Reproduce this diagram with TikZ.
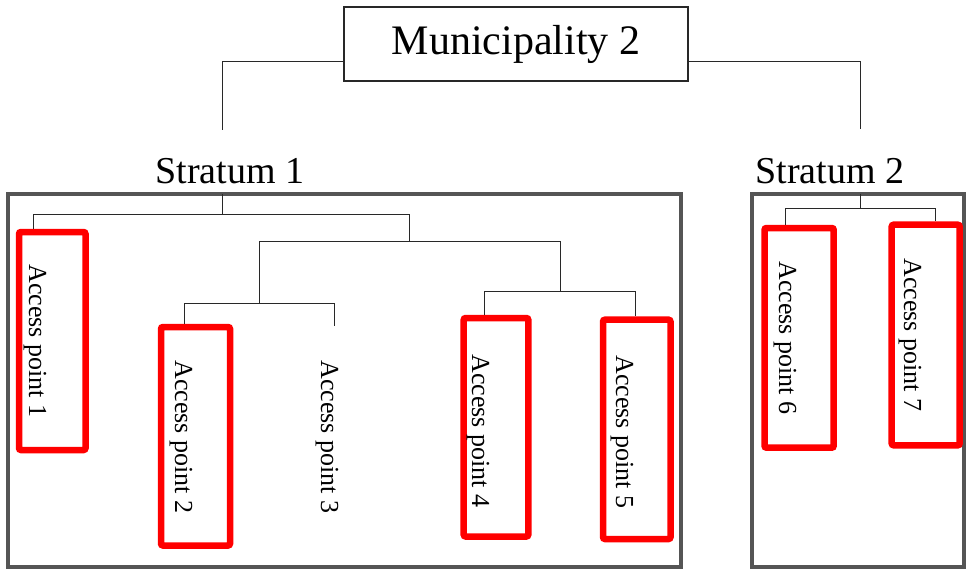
\documentclass[tikz,border=0pt]{standalone}
\usepackage{fontspec}
\setmainfont{Liberation Serif}
\definecolor{boxgray}{RGB}{85,85,85}
\definecolor{linegray}{RGB}{40,40,40}
\tikzset{
  thinline/.style={draw=linegray, line width=1pt},
  munbox/.style={draw=linegray, line width=1.2pt, rectangle, inner sep=0pt,
                 minimum width=344pt, minimum height=74pt,
                 font=\fontsize{42}{50}\selectfont},
  stlabel/.style={anchor=base, inner sep=0pt, font=\fontsize{38}{46}\selectfont},
  grpbox/.style={draw=boxgray, line width=3.5pt, rectangle, inner sep=0pt},
  apbox/.style={draw=red, line width=6.5pt, rectangle, rounded corners=2pt, inner sep=0pt},
  aptext/.style={rotate=-90, inner sep=0pt, font=\fontsize{26}{30}\selectfont}
}
\begin{document}
\begin{tikzpicture}[x=1pt, y=-1pt]
\useasboundingbox (0,0) rectangle (971,568);

% top node
\node[munbox] (mun) at (516,44) {Municipality 2};

% stratum labels
\node[stlabel] (s1lab) at (230,183.5) {Stratum 1};
\node[stlabel] (s2lab) at (830,183.5) {Stratum 2};

% group boxes
\node[grpbox, minimum width=673pt, minimum height=373pt] (s1box) at (344.5,380.5) {};
\node[grpbox, minimum width=212pt, minimum height=373pt] (s2box) at (858,380.5) {};

% access point boxes
\node[apbox, minimum width=66.5pt, minimum height=218pt] (ap1) at (52.25,341) {};
\node[apbox, minimum width=69pt, minimum height=218.5pt] (ap2) at (195.5,436.25) {};
\node[apbox, minimum width=64.6pt, minimum height=218.5pt] (ap4) at (496,427.25) {};
\node[apbox, minimum width=67.5pt, minimum height=219.3pt] (ap5) at (636.75,429.35) {};
\node[apbox, minimum width=69.2pt, minimum height=219.7pt] (ap6) at (799.1,337.85) {};
\node[apbox, minimum width=68pt, minimum height=220.6pt] (ap7) at (925.7,335) {};

% access point texts
\node[aptext] (t1) at (35,341) {Access point 1};
\node[aptext] (t2) at (181,437) {Access point 2};
\node[aptext] (t3) at (327,437) {Access point 3};
\node[aptext] (t4) at (478,431) {Access point 4};
\node[aptext] (t5) at (622,432) {Access point 5};
\node[aptext] (t6) at (785,338) {Access point 6};
\node[aptext] (t7) at (910,335) {Access point 7};

% coordinates
\coordinate (s1c) at (222,130);
\coordinate (s2c) at (860,129);
\coordinate (r1) at (222,194);
\coordinate (j1) at (222,214);
\coordinate (a1) at (33,214);
\coordinate (b1) at (409,214);
\coordinate (j2) at (409,241);
\coordinate (a2) at (259,241);
\coordinate (b2) at (560,241);
\coordinate (j3) at (259,303);
\coordinate (a3) at (184,303);
\coordinate (b3) at (334,303);
\coordinate (ap3top) at (334,326);
\coordinate (j4) at (560,291);
\coordinate (a4) at (484,291);
\coordinate (b4) at (635,291);
\coordinate (r2) at (860,194);
\coordinate (j5) at (860,208);
\coordinate (a5) at (785,208);
\coordinate (b5) at (935.7,208);

% connectors from municipality
\draw[thinline] ([yshift=-17pt]mun.west) -| (s1c);
\draw[thinline] ([yshift=-17pt]mun.east) -| (s2c);

% stratum 1 tree
\draw[thinline] (r1) -- (j1);
\draw[thinline] (a1) -- (b1);
\draw[thinline] (a1) -- (a1 |- ap1.north);
\draw[thinline] (b1) -- (j2);
\draw[thinline] (a2) -- (b2);
\draw[thinline] (a2) -- (j3);
\draw[thinline] (a3) -- (b3);
\draw[thinline] (a3) -- (a3 |- ap2.north);
\draw[thinline] (b3) -- (ap3top);
\draw[thinline] (b2) -- (j4);
\draw[thinline] (a4) -- (b4);
\draw[thinline] (a4) -- (a4 |- ap4.north);
\draw[thinline] (b4) -- (b4 |- ap5.north);

% stratum 2 tree
\draw[thinline] (r2) -- (j5);
\draw[thinline] (a5) -- (b5);
\draw[thinline] (a5) -- (a5 |- ap6.north);
\draw[thinline] (b5) -- (b5 |- ap7.north);
\end{tikzpicture}
\end{document}
